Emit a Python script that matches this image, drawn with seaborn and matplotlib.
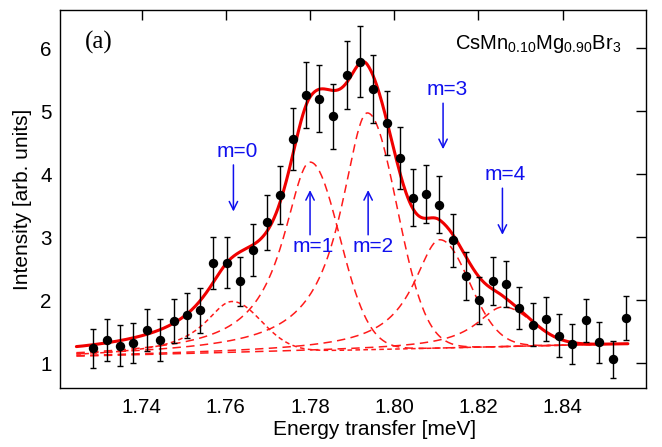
import numpy as np
import pandas as pd
import matplotlib
matplotlib.use("Agg")
import matplotlib.pyplot as plt
import seaborn as sns

# ---- data ----
energy = [1.7285, 1.7317, 1.7348, 1.7380, 1.7412, 1.7443, 1.7476, 1.7507, 1.7538, 1.7570,
          1.7602, 1.7634, 1.7665, 1.7697, 1.7729, 1.7760, 1.7790, 1.7822, 1.7855, 1.7887,
          1.7919, 1.7950, 1.7982, 1.8014, 1.8044, 1.8076, 1.8107, 1.8140, 1.8171, 1.8202,
          1.8234, 1.8265, 1.8297, 1.8329, 1.8360, 1.8391, 1.8423, 1.8455, 1.8486, 1.8519,
          1.8550]
intensity = [1.24, 1.37, 1.28, 1.32, 1.53, 1.37, 1.67, 1.76, 1.84, 2.59,
             2.60, 2.30, 2.80, 3.24, 3.67, 4.56, 5.26, 5.20, 4.92, 5.58,
             5.79, 5.35, 4.81, 4.26, 3.63, 3.69, 3.52, 2.95, 2.39, 2.00,
             2.31, 2.26, 1.88, 1.61, 1.70, 1.44, 1.31, 1.68, 1.33, 1.06,
             1.72]
error = [0.31, 0.33, 0.32, 0.32, 0.33, 0.33, 0.35, 0.36, 0.36, 0.41,
         0.40, 0.39, 0.41, 0.44, 0.46, 0.49, 0.53, 0.53, 0.51, 0.54,
         0.56, 0.54, 0.51, 0.49, 0.45, 0.46, 0.45, 0.42, 0.38, 0.37,
         0.38, 0.37, 0.33, 0.34, 0.35, 0.34, 0.32, 0.34, 0.33, 0.30,
         0.35]

# fitted model parameters
peak_labels = ["m=0", "m=1", "m=2", "m=3", "m=4"]
peak_centers = [1.7614, 1.7800, 1.7936, 1.8108, 1.8258]
peak_heights = [0.815, 3.00, 3.76, 1.72, 0.63]
peak_left_hwhm = [0.0078, 0.0078, 0.0076, 0.0076, 0.0076]
peak_right_sigma = [0.0070, 0.0070, 0.0070, 0.0070, 0.0070]
bg_energy = [1.7253, 1.8550]
bg_level = [1.11, 1.31]
fit_range = [1.7245, 1.8555]

# arrows: x, y_start, y_end ; label positions
arrow_x = [1.7618, 1.7800, 1.7938, 1.8116, 1.8257]
arrow_from = [4.15, 3.04, 3.04, 5.13, 3.78]
arrow_to = [3.41, 3.75, 3.75, 4.40, 3.04]
label_x = [1.7626, 1.7808, 1.7950, 1.8126, 1.8263]
label_y = [4.36, 2.85, 2.85, 5.35, 3.99]

xticks = [1.74, 1.76, 1.78, 1.80, 1.82, 1.84]
yticks = [1, 2, 3, 4, 5, 6]

# ---- figure ----
sns.set_theme(style="white")
plt.rcParams["font.family"] = ["Liberation Sans", "DejaVu Sans"]
plt.rcParams["mathtext.fontset"] = "custom"
plt.rcParams["mathtext.rm"] = "Liberation Sans"

fig = plt.figure(figsize=(6.62, 4.47), dpi=100)
ax = fig.add_axes([0.0906, 0.132, 0.8852, 0.8456])

xf = np.linspace(fit_range[0], fit_range[1], 600)
bg = np.interp(xf, bg_energy, bg_level)


def peak(x, c, h, g, s):
    d = x - c
    left = h / (1.0 + (d / g) ** 2)
    right = h * np.exp(-0.5 * (d / s) ** 2)
    return np.where(d < 0, left, right)


comps = [peak(xf, c, h, g, s) for c, h, g, s in
         zip(peak_centers, peak_heights, peak_left_hwhm, peak_right_sigma)]
total = bg + np.sum(comps, axis=0)

for i, comp in enumerate(comps):
    dash = (0, (3.0, 2.2)) if i == 0 else (0, (5.5, 3.5))
    sns.lineplot(x=xf, y=bg + comp, ax=ax, color="#ff1a1a", lw=1.1,
                 linestyle=dash, zorder=2)

sns.lineplot(x=xf, y=total, ax=ax, color="#f00000", lw=2.2, zorder=3)

df = pd.DataFrame({"E": energy, "I": intensity, "err": error})
ax.errorbar(df["E"], df["I"], yerr=df["err"], fmt="none", ecolor="black",
            elinewidth=1.0, capsize=2.5, capthick=1.0, zorder=4)
sns.scatterplot(data=df, x="E", y="I", ax=ax, color="black", s=46,
                edgecolor="black", linewidth=0, zorder=5)

for xa, y0, y1, lx, ly, lab in zip(arrow_x, arrow_from, arrow_to,
                                    label_x, label_y, peak_labels):
    ax.annotate("", xy=(xa, y1), xytext=(xa, y0),
                arrowprops=dict(arrowstyle="->", color="#1010ee", lw=1.1,
                                mutation_scale=15, shrinkA=0, shrinkB=0))
    ax.text(lx, ly, lab, color="#1010ee", fontsize=15, ha="center",
            va="center")

ax.text(1.7299, 6.10, "(a)", family=["Liberation Serif", "DejaVu Serif"],
        fontsize=18, ha="center", va="center", color="black")
ax.text(1.8540, 5.99, r"CsMn$_{0.10}$Mg$_{0.90}$Br$_3$", fontsize=14.5,
        ha="right", va="baseline", color="black")

ax.set_xlim(1.7206, 1.8598)
ax.set_ylim(0.607, 6.61)
ax.set_xticks(xticks)
ax.set_xticklabels([f"{t:.2f}" for t in xticks])
ax.set_yticks(yticks)
ax.set_yticklabels([str(t) for t in yticks])
ax.tick_params(direction="in", length=7, width=1, labelsize=14.8,
               top=True, right=True, color="black", labelcolor="black")
ax.tick_params(axis="x", pad=7)
ax.tick_params(axis="y", pad=6)
for sp in ax.spines.values():
    sp.set_color("black")
    sp.set_linewidth(1.0)
ax.set_xlabel("Energy transfer [meV]", fontsize=15, color="black")
ax.xaxis.set_label_coords(0.536, -0.085)
ax.set_ylabel("Intensity [arb. units]", fontsize=15, color="black", labelpad=6)
ax.grid(False)

fig.savefig("out.png", dpi=100)
